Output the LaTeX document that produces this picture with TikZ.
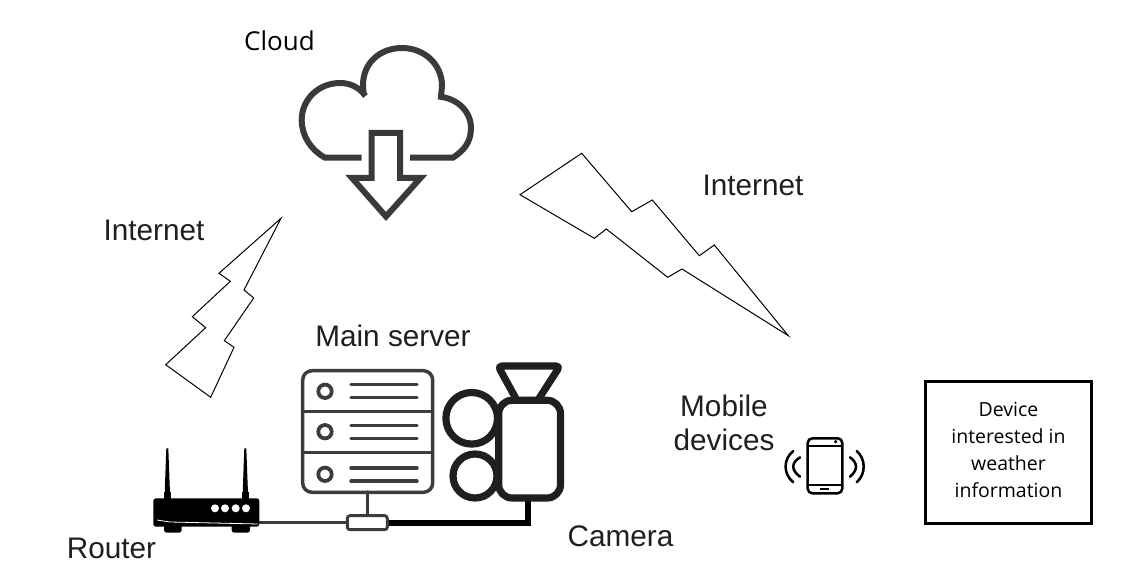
\documentclass[tikz,border=0pt]{standalone}
\usepackage{fontspec}
\setmainfont{Liberation Sans}
\newfontfamily\opensans{Open Sans}
\definecolor{ink}{HTML}{1F1F1F}
\definecolor{cloudink}{HTML}{3A3A3A}
\definecolor{srv}{HTML}{3C3C3C}
\tikzset{
  bolt/.style={draw=black,line width=0.75pt,line join=miter,fill=white},
  lab/.style={font=\fontsize{22.3}{25.5}\selectfont,text=ink,inner sep=0pt,anchor=center,align=center},
  labseg/.style={font=\opensans\fontsize{19.5}{25}\selectfont,text=black,inner sep=0pt,anchor=center,align=center},
  cloudline/.style={draw=cloudink,line width=4.5pt,line join=miter},
  srvline/.style={draw=srv,line width=2.6pt,line cap=round},
  camline/.style={draw=ink,line width=5.4pt,line join=round},
  phoneline/.style={draw=black,line width=1.9pt,line cap=round}
}
\begin{document}
\begin{tikzpicture}[x=0.75pt,y=-0.75pt]
\useasboundingbox (0,0) rectangle (1131,584);
% cloud
\draw[cloudline] (361.7,157.7) -- (325,157.7)
  .. controls (311,150) and (301.7,136) .. (301.7,120)
  .. controls (301.7,99) and (319,83) .. (340,83)
  .. controls (350,83) and (359,87) .. (365.5,96);
\draw[cloudline] (363.5,93) -- (363,85) .. controls (363,63) and (380,48) .. (402,48)
  .. controls (424,48) and (442,64) .. (442,86) -- (441,97);
\draw[cloudline] (438,96.5) .. controls (458,98) and (471,112) .. (471,128)
  .. controls (471,143) and (463,151) .. (453,157.7) -- (410,157.7);
\draw[cloudline] (371.7,178) -- (371.7,133) -- (400,133) -- (400,178) -- (420.5,178) -- (386,216.5) -- (352,178) -- cycle;
% bolts
\draw[bolt] (581.7,153.3) -- (631.7,211.7) -- (652.3,200) -- (699.3,255.7) -- (714.3,245) -- (788.3,335.7) -- (682,269) -- (667.7,277.3) -- (606.3,229) -- (594.3,238.3) -- (520,194.7) -- cycle;
\draw[bolt] (281,218.3) -- (219,273.3) -- (230.3,281.3) -- (192.3,316.7) -- (205.7,327.7) -- (165.7,364.7) -- (210.7,397.3) -- (234,347.3) -- (224.3,340.7) -- (253.7,298) -- (244,290) -- cycle;
% server
\draw[srvline,rounded corners=7] (302.7,370.7) rectangle (432.7,492.3);
\draw[srvline] (302.7,411.3) -- (432.7,411.3) (302.7,452.3) -- (432.7,452.3);
\foreach \yy in {391.3,431.7,474.3}{\draw[srv,line width=2.8pt] (325,\yy) circle [radius=6.7];}
\foreach \yy in {384.3,397.7,425.3,438.3,468,481}{\draw[srvline] (351,\yy) -- (417,\yy);}
\draw[srvline] (367.3,492) -- (367.3,515);
% connectors
\coordinate (routerout) at (259,522.7);
\coordinate (camin) at (528,499);
\node[draw=srv,line width=2.2pt,fill=white,rounded corners=2,minimum width=30pt,minimum height=10.5pt,inner sep=0pt] (hub) at (367.3,522.7) {};
\draw[draw=srv,line width=2pt] (routerout) -- (hub.west);
\draw[draw=black,line width=4.5pt,line join=miter] (hub.east) -- (528,522.7) -- (camin);
% camera
\draw[camline] (471.7,418.3) circle [radius=25.8];
\draw[camline] (475,476) circle [radius=22];
\draw[camline,fill=white,rounded corners=10] (498.7,400.3) rectangle (560.5,498);
\draw[camline,rounded corners=3] (516.7,400) -- (498,366) -- (560,366) -- (538,400);
% router
\fill[black,rounded corners=2] (153.3,498.3) rectangle (259.3,526.7);
\fill[black,rounded corners=2] (164,524) rectangle (181.7,532.7);
\fill[black,rounded corners=2] (231.7,524) rectangle (250,532.7);
\fill[black] (164,492) rectangle (171,499);
\fill[black] (242,492) rectangle (249,499);
\fill[black] (166.3,448.3) -- (168.3,448.3) -- (170,493) -- (164.7,493) -- cycle;
\fill[black] (244.3,448.3) -- (246.3,448.3) -- (248,493) -- (242.7,493) -- cycle;
\foreach \xx in {215,225,235.7,246}{\fill[white] (\xx,508.3) circle [radius=4];}
\draw[white,line width=0.6pt] (157,520) -- (170,522) -- (258,524);
% phone
\draw[phoneline,rounded corners=3.5] (807.7,438.3) rectangle (842.3,493.3);
\draw[draw=black,line width=1.3pt] (807.7,445.7) -- (842.3,445.7) (807.7,485) -- (842.3,485);
\fill[black] (835.7,441.7) circle [radius=1.8];
\draw[draw=black,line width=1.4pt] (820,489.2) -- (829,489.2);
\draw[phoneline] (793.3,451) .. controls (783,459) and (783,474) .. (793.3,482.3);
\draw[phoneline] (800,457.3) .. controls (791,463) and (791,470) .. (800,476.7);
\draw[phoneline] (856.7,451) .. controls (866,459) and (866,474) .. (856.7,482.3);
\draw[phoneline] (850,457.3) .. controls (858,463) and (858,470) .. (850,476.7);
% device box
\node[draw=black,line width=2.3pt,minimum width=124.5pt,minimum height=106.5pt,inner sep=0pt] (device) at (1008.5,452.5) {};
\node[font=\opensans\fontsize{14.6}{20.2}\selectfont,align=center,text=black,inner sep=0pt] (devicetext) at (1008.5,450) {Device\\interested in\\weather\\information};
% labels
\node[lab] (netR) at (753,185) {Internet};
\node[lab] (netL) at (154,230) {Internet};
\node[lab] (mainsrv) at (393,336) {Main server};
\node[lab] (camlab) at (620.5,536) {Camera};
\node[lab] (routerlab) at (111.5,548) {Router};
\node[labseg] (cloudlab) at (279.5,40.5) {Cloud};
\node[lab] (mobile) at (724,423) {Mobile\\devices};
\end{tikzpicture}
\end{document}
